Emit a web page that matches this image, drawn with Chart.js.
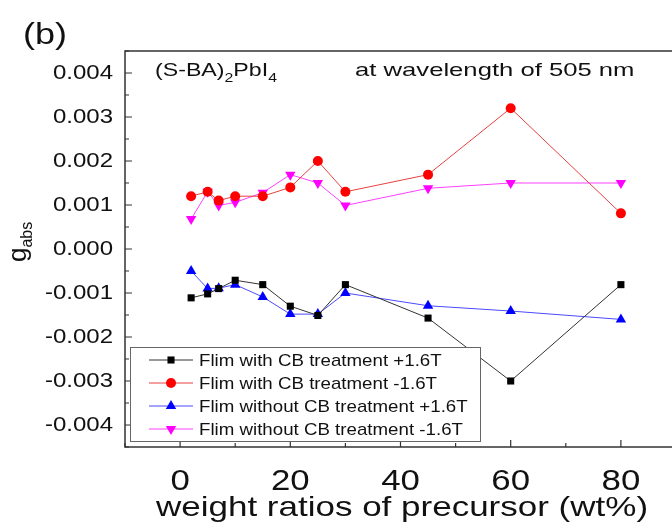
<!DOCTYPE html>
<html>
<head>
<meta charset="utf-8">
<script src="https://cdn.jsdelivr.net/npm/chart.js@4.4.1/dist/chart.umd.min.js"></script>
<style>
  html, body { margin: 0; padding: 0; background: #fff; overflow: hidden; }
  #wrap { position: relative; width: 700px; height: 523px; }
</style>
</head>
<body>
<div id="wrap"><canvas id="gChart"></canvas></div>
<script>
// weight ratios of precursor (wt%)
const ratios = [2, 5, 7, 10, 15, 20, 25, 30, 45, 60, 80];

// g_abs values
const withCbPlus = [-0.00111, -0.00102, -0.0009, -0.00071, -0.00081, -0.0013, -0.00151, -0.00081, -0.00157, -0.003, -0.00081];
const withCbMinus = [0.0012, 0.0013, 0.0011, 0.0012, 0.0012, 0.0014, 0.002, 0.0013, 0.00169, 0.0032, 0.00081];
const withoutCbPlus = [-0.0005, -0.0009, -0.00089, -0.00081, -0.00109, -0.00148, -0.00148, -0.001, -0.00129, -0.00141, -0.0016];
const withoutCbMinus = [0.00068, 0.0013, 0.00099, 0.00106, 0.00128, 0.00169, 0.0015, 0.00099, 0.00138, 0.0015, 0.0015];

const seriesNames = [
    'Flim with CB treatment +1.6T',
    'Flim with CB treatment -1.6T',
    'Flim without CB treatment +1.6T',
    'Flim without CB treatment -1.6T'
];

const xTicks = [0, 20, 40, 60, 80];
const yTicks = [-0.004, -0.003, -0.002, -0.001, 0, 0.001, 0.002, 0.003, 0.004];

const FONT = 'Liberation Sans, Arial, sans-serif';

function pts(vals) {
    return ratios.map((r, i) => ({ x: r, y: vals[i] }));
}

// the figure's lettering is wider than plain Arial, so stretch it a bit
function wideText(ctx, text, x, y, size, sx, align, baseline) {
    ctx.save();
    ctx.translate(x, y);
    ctx.scale(sx, 1);
    ctx.font = size + 'px ' + FONT;
    ctx.textAlign = align || 'left';
    ctx.textBaseline = baseline || 'alphabetic';
    ctx.fillText(text, 0, 0);
    const w = ctx.measureText(text).width * sx;
    ctx.restore();
    return w;
}

// frame, inward ticks, tick labels, legend box and text labels
const decorations = {
    id: 'decorations',
    afterDraw(chart) {
        const ctx = chart.ctx;
        const area = chart.chartArea;
        const xs = chart.scales.x;
        const ys = chart.scales.y;
        ctx.save();

        // inward ticks
        ctx.strokeStyle = '#333';
        ctx.lineWidth = 1.2;
        ctx.beginPath();
        for (let v = -10; v <= 90; v += 10) {
            const px = xs.getPixelForValue(v);
            const len = (v % 20 === 0) ? 7 : 4;
            ctx.moveTo(px, area.bottom);
            ctx.lineTo(px, area.bottom - len);
        }
        for (let k = -9; k <= 9; k++) {
            const py = ys.getPixelForValue(k * 0.0005);
            const len = (k % 2 === 0) ? 7 : 4;
            ctx.moveTo(area.left, py);
            ctx.lineTo(area.left + len, py);
        }
        ctx.stroke();

        // frame
        ctx.lineWidth = 1.5;
        ctx.strokeRect(area.left, area.top, area.right - area.left, area.bottom - area.top);

        // tick labels
        ctx.fillStyle = '#111';
        yTicks.forEach(v => {
            wideText(ctx, v.toFixed(3), area.left - 12, ys.getPixelForValue(v), 20, 1.2, 'right', 'middle');
        });
        xTicks.forEach(v => {
            wideText(ctx, String(v), xs.getPixelForValue(v), 490, 29, 1.2, 'center');
        });

        // legend
        const lx = 130, ly = 347, lw = 350, lh = 94;
        ctx.fillStyle = '#fff';
        ctx.fillRect(lx, ly, lw, lh);
        ctx.strokeStyle = '#666';
        ctx.lineWidth = 1;
        ctx.strokeRect(lx + 0.5, ly + 0.5, lw, lh);
        chart.data.datasets.forEach((ds, i) => {
            const cy = ly + 13 + i * 23;
            ctx.strokeStyle = ds.borderColor;
            ctx.lineWidth = 1;
            ctx.beginPath();
            ctx.moveTo(lx + 19, cy);
            ctx.lineTo(lx + 63, cy);
            ctx.stroke();
            ctx.fillStyle = ds.pointBackgroundColor;
            Chart.helpers.drawPoint(ctx, {
                pointStyle: ds.pointStyle,
                rotation: ds.pointRotation || 0,
                radius: ds.pointRadius,
                borderWidth: 0
            }, lx + 41, cy);
            ctx.fillStyle = '#111';
            wideText(ctx, ds.label, lx + 69, cy + 1, 17, 1.1, 'left', 'middle');
        });

        // (S-BA)2PbI4 with subscripts
        ctx.fillStyle = '#111';
        let tx = 155;
        const by = 76;
        const parts = [['(S-BA)', 19, 0], ['2', 13, 6], ['PbI', 19, 0], ['4', 13, 6]];
        parts.forEach(p => {
            tx += wideText(ctx, p[0], tx, by + p[2], p[1], 1.22);
        });
        wideText(ctx, 'at wavelength of 505 nm', 355, by, 19, 1.35);

        // panel label
        wideText(ctx, '(b)', 23, 44, 30, 1.2);

        // x title
        wideText(ctx, 'weight ratios of precursor (wt%)', 402, 516, 28, 1.25, 'center');

        // y title g_abs (rotated)
        ctx.translate(26, 262);
        ctx.rotate(-Math.PI / 2);
        ctx.font = '26px ' + FONT;
        ctx.textAlign = 'left';
        ctx.textBaseline = 'alphabetic';
        ctx.fillText('g', 0, 0);
        const gw = ctx.measureText('g').width;
        ctx.font = '16px ' + FONT;
        ctx.fillText('abs', gw, 6);
        ctx.restore();
    }
};

const colors = ['#000000', '#ff0000', '#0000ff', '#ff00ff'];
const lineColors = ['#333333', '#e84040', '#4a4aff', '#ff40ff'];
const styles = ['rect', 'circle', 'triangle', 'triangle'];
const rotations = [0, 0, 0, 180];
const radii = [5, 5, 6, 6];
const values = [withCbPlus, withCbMinus, withoutCbPlus, withoutCbMinus];

new Chart(document.getElementById('gChart'), {
    type: 'line',
    data: {
        datasets: values.map((vals, i) => ({
            label: seriesNames[i],
            data: pts(vals),
            borderColor: lineColors[i],
            borderWidth: 1,
            pointBackgroundColor: colors[i],
            pointBorderColor: colors[i],
            pointBorderWidth: 0,
            pointStyle: styles[i],
            pointRotation: rotations[i],
            pointRadius: radii[i],
            tension: 0
        }))
    },
    plugins: [decorations],
    options: {
        responsive: true,
        maintainAspectRatio: false,
        animation: false,
        layout: { padding: { top: 51, right: 24, left: 0, bottom: 0 } },
        plugins: {
            legend: { display: false },
            tooltip: { enabled: false }
        },
        scales: {
            x: {
                type: 'linear',
                min: -10,
                max: 90,
                grid: { display: false, drawTicks: false },
                border: { display: false },
                afterBuildTicks: s => { s.ticks = xTicks.map(v => ({ value: v })); },
                afterFit: s => { s.height = 76; },
                ticks: { display: false }
            },
            y: {
                type: 'linear',
                min: -0.0045,
                max: 0.0045,
                grid: { display: false, drawTicks: false },
                border: { display: false },
                afterBuildTicks: s => { s.ticks = yTicks.map(v => ({ value: v })); },
                afterFit: s => { s.width = 125; },
                ticks: { display: false }
            }
        }
    }
});
</script>
</body>
</html>
